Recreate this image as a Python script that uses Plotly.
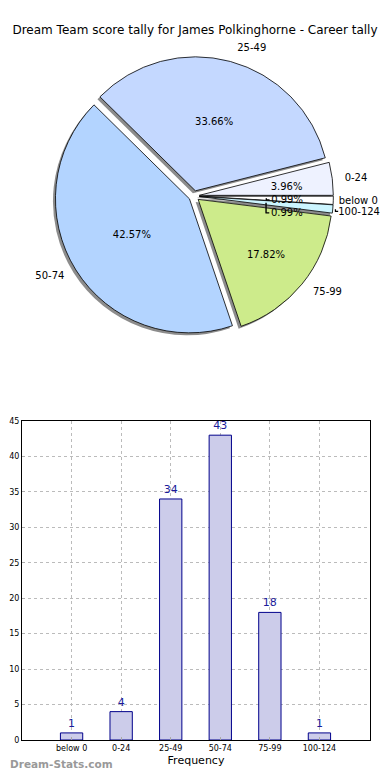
import plotly.graph_objects as go

categories = ["below 0", "0-24", "25-49", "50-74", "75-99", "100-124"]
counts = [1, 4, 34, 43, 18, 1]
pie_colors = ["#ffffff", "#eef2ff", "#c4d8ff", "#b3d4ff", "#cdeb8b", "#ccf5ff"]
big_slice = [False, False, True, True, True, False]
edge_label = [True, False, False, False, False, True]
y_ticks = [0, 5, 10, 15, 20, 25, 30, 35, 40, 45]

# page is 390x780; the html body has an 8px margin, so the figure is 374x764
OFF = 8
W, H = 390 - 2 * OFF, 780 - 2 * OFF
fontfam = "DejaVu Sans"

def px_dom_x(a, b):
    return [(a - OFF) / W, (b - OFF) / W]

def px_dom_y(top, bottom):
    return [(H - (bottom - OFF)) / H, (H - (top - OFF)) / H]

def py(y_page):
    return (H - (y_page - OFF)) / H

cx, cy = 194, 196        # pie centre (page px)
R = 134                  # pie radius (px)
EXPLODE = 0.04           # explode as fraction of R

def pie_dom(r, dx=0, dy=0):
    p = EXPLODE * R / r
    half = r * (1 + p)
    return (dict(x=px_dom_x(cx - half + dx, cx + half + dx),
                 y=px_dom_y(cy - half + dy, cy + half + dy)), [p] * len(categories))

common = dict(labels=categories, values=counts, sort=False, automargin=False,
              direction="counterclockwise", rotation=90, showlegend=False)
clear = dict(colors=["rgba(0,0,0,0)"] * 6, line=dict(width=0))

fig = go.Figure()

# shadow
d, p = pie_dom(R, -2.5, 2.5)
fig.add_trace(go.Pie(**common, pull=p, domain=d, textinfo="none", hoverinfo="skip",
                     marker=dict(colors=["#8c8c8c"] * 6, line=dict(width=0))))
# main pie, percentages of the big slices
d, p = pie_dom(R)
fig.add_trace(go.Pie(**common, pull=p, domain=d,
                     texttemplate=["%{percent:.2%}" if b else "" for b in big_slice],
                     textposition="inside", insidetextorientation="horizontal",
                     textfont=dict(family=fontfam, size=11, color="#000000"),
                     marker=dict(colors=pie_colors, line=dict(color="#000000", width=0.8))))
# percentages of the small slices (around 0.6 R)
d, p = pie_dom(R * 0.5)
fig.add_trace(go.Pie(**common, pull=p, domain=d,
                     texttemplate=["" if b else "%{percent:.2%}" for b in big_slice],
                     textposition="outside", hoverinfo="skip",
                     textfont=dict(family=fontfam, size=11, color="#000000"), marker=clear))
# category labels (around 1.1 R)
d, p = pie_dom(R * 1.06)
fig.add_trace(go.Pie(**common, pull=p, domain=d,
                     texttemplate=["" if e else "%{label}" for e in edge_label],
                     textposition="outside", hoverinfo="skip",
                     textfont=dict(family=fontfam, size=11, color="#000000"), marker=clear))
# labels of the two thin slices at the right edge, kept inside the page
d, p = pie_dom(R * 1.02)
fig.add_trace(go.Pie(**common, pull=p, domain=d,
                     texttemplate=["%{label}" if e else "" for e in edge_label],
                     textposition="outside", hoverinfo="skip",
                     textfont=dict(family=fontfam, size=10, color="#000000"), marker=clear))

fig.add_trace(go.Bar(
    x=categories, y=counts, width=0.45,
    marker=dict(color="#ccccea", line=dict(color="#00008b", width=1)),
    text=[str(c) for c in counts], textposition="outside",
    textfont=dict(family=fontfam, size=11, color="#1a1a9a"),
    cliponaxis=False, showlegend=False,
))

fig.update_layout(
    width=W, height=H, autosize=False,
    margin=dict(l=0, r=0, t=0, b=0),
    paper_bgcolor="white", plot_bgcolor="white",
    font=dict(family=fontfam, color="#000000"),
    title=dict(text="Dream Team score tally for James Polkinghorne - Career tally",
               x=0.5, xanchor="center", y=py(30), yanchor="middle",
               font=dict(family=fontfam, size=12, color="#000000")),
    uniformtext=dict(minsize=10, mode="show"),
    xaxis=dict(domain=px_dom_x(22, 370), type="category", range=[-1, 6.02],
               automargin=False,
               showgrid=True, gridcolor="#bbbbbb", griddash="dot", gridwidth=1,
               showline=True, mirror=True, linecolor="#000000", linewidth=1,
               ticks="inside", ticklen=3, tickcolor="#aaaaaa",
               tickfont=dict(family=fontfam, size=8, color="#000000"),
               title=dict(text="Frequency", font=dict(family=fontfam, size=11), standoff=4),
               zeroline=False, fixedrange=True),
    yaxis=dict(domain=px_dom_y(421, 740), range=[0, 45], tickvals=y_ticks,
               automargin=False,
               showgrid=True, gridcolor="#bbbbbb", griddash="dot", gridwidth=1,
               showline=True, mirror=True, linecolor="#000000", linewidth=1,
               ticks="inside", ticklen=3, tickcolor="#aaaaaa",
               tickfont=dict(family=fontfam, size=8, color="#000000"),
               zeroline=False, fixedrange=True),
    annotations=[dict(text="<b>Dream-Stats.com</b>", x=0, y=py(772),
                      xref="paper", yref="paper", xanchor="left", yanchor="bottom",
                      showarrow=False, font=dict(family=fontfam, size=10.5, color="#999999"))],
)

fig.write_html("out.html", config=dict(displayModeBar=False, responsive=False))
